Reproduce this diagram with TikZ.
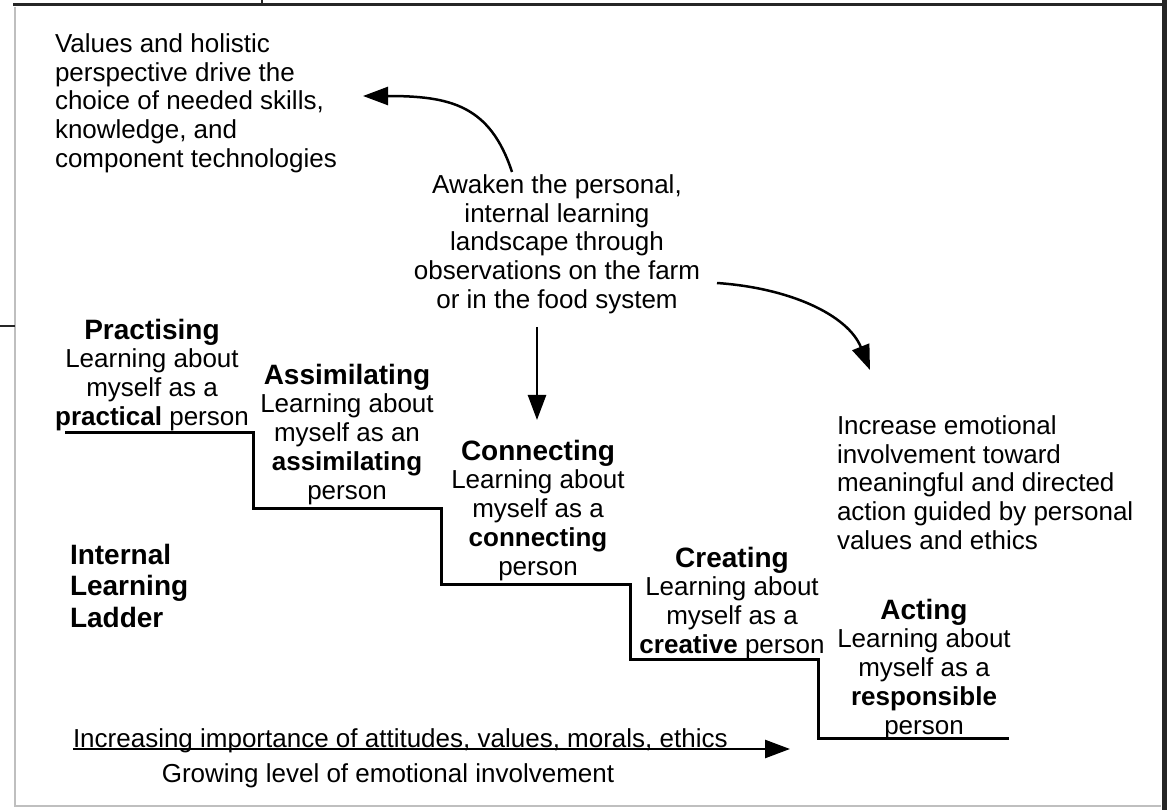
\documentclass[tikz,border=0pt]{standalone}
\usepackage{fontspec}
\setmainfont{Liberation Sans}
\usetikzlibrary{arrows.meta,calc}
\begin{document}
\begin{tikzpicture}[x=1pt,y=-1pt,
  every node/.style={inner sep=0pt,outer sep=0pt,text=black},
  txt/.style={font=\fontsize{26}{28.7}\selectfont},
  stepbox/.style={txt,align=center,anchor=north},
  arr/.style={line width=2.5pt,-{Triangle[length=25pt,width=18pt]}},
  stepline/.style={line width=3pt,line join=miter},
  framedark/.style={line width=3pt,black!85},
  framelight/.style={line width=1.5pt,black!25}]
\newcommand{\ttl}[1]{{\fontsize{28}{28.7}\selectfont\bfseries #1}}
\useasboundingbox[fill=white] (0,0) rectangle (1168,810);

% frame
\draw[framedark] (13,5) -- (1162,5);
\draw[framedark,line width=2pt] (262,0) -- (262,5);
\draw[framedark,line width=5pt] (1164.5,0) -- (1164.5,810);
\draw[framelight] (15,7) -- (15,806) -- (1161,806);
\draw[framedark,line width=2pt] (0,326) -- (15,326);

% texts
\node[txt,align=left,anchor=north west] (values) at (55,33.5)
  {Values and holistic\\perspective drive the\\choice of needed skills,\\knowledge, and\\component technologies};
\node[txt,align=center,anchor=north] (awaken) at (557,174.5)
  {Awaken the personal,\\internal learning\\landscape through\\observations on the farm\\or in the food system};
\node[txt,align=left,anchor=north west] (increase) at (837,415.5)
  {Increase emotional\\involvement toward\\meaningful and directed\\action guided by personal\\values and ethics};
\node[font=\fontsize{28}{31.5}\selectfont\bfseries,align=left,anchor=north west] (ladder) at (70,544)
  {Internal\\Learning\\Ladder};

% steps
\node[stepbox] (practising) at (152,319)
  {\ttl{Practising}\\Learning about\\myself as a\\\textbf{practical} person};
\node[stepbox] (assimilating) at (347,364)
  {\ttl{Assimilating}\\Learning about\\myself as an\\\textbf{assimilating}\\person};
\node[stepbox] (connecting) at (538,440)
  {\ttl{Connecting}\\Learning about\\myself as a\\\textbf{connecting}\\person};
\node[stepbox] (creating) at (732,547)
  {\ttl{Creating}\\Learning about\\myself as a\\\textbf{creative} person};
\node[stepbox] (acting) at (924,599)
  {\ttl{Acting}\\Learning about\\myself as a\\\textbf{responsible}\\person};

\draw[stepline] (65,432) -- (253,432) -- (253,508) -- (441,508) -- (441,584)
  -- (630,584) -- (630,659) -- (818,659) -- (818,738) -- (1009,738);

% bottom
\node[txt,anchor=base west] (incr) at (73,747)
  {Increasing importance of attitudes, values, morals, ethics};
\node[txt,anchor=base] (grow) at (388,782)
  {Growing level of emotional involvement};
\coordinate (bstart) at (73,749);
\coordinate (bend) at (790,749);
\draw[arr] (bstart) -- (bend);

% arrows from awaken
\coordinate (a1s) at (512,172);
\coordinate (a1e) at (363,96);
\draw[arr] (a1s) .. controls (490,105) and (450,96) .. (a1e);
\coordinate (a2s) at (537,327);
\coordinate (a2e) at (537,420);
\draw[arr] (a2s) -- (a2e);
\coordinate (a3s) at (717,283);
\coordinate (a3e) at (870,370);
\draw[arr] (a3s) .. controls (790,288) and (848,315) .. (a3e);
\end{tikzpicture}
\end{document}
